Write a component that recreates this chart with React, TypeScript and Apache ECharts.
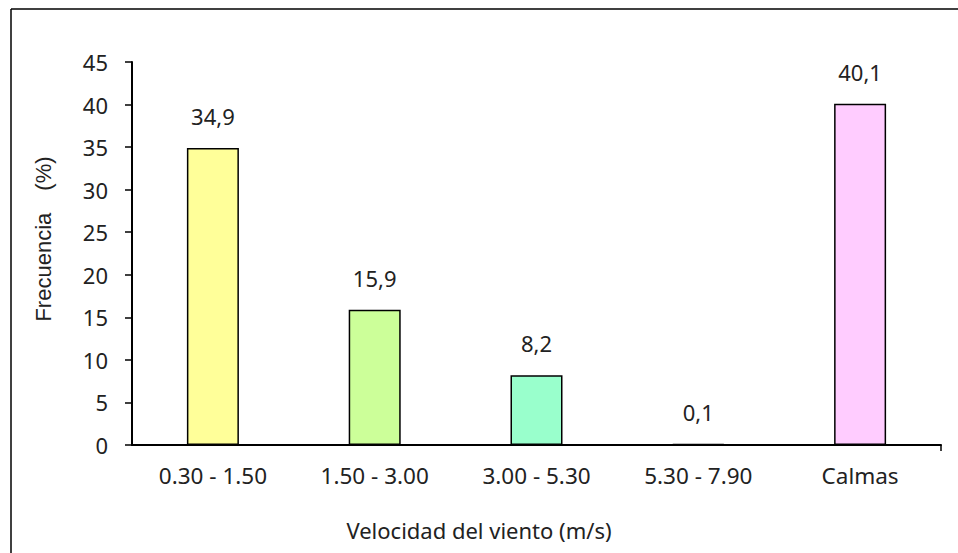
import React, { useEffect, useRef } from "react";
import * as echarts from "echarts";

const categories = ["0.30 - 1.50", "1.50 - 3.00", "3.00 - 5.30", "5.30 - 7.90", "Calmas"];
const frequencies = [34.9, 15.9, 8.2, 0.1, 40.1];
const barColors = ["#FFFF99", "#CCFF99", "#99FFCC", "#99CCFF", "#FFCCFF"];
const yTicks = { min: 0, max: 45, interval: 5 };

const FONT = "'Noto Sans', 'Open Sans', sans-serif";
const TITLE_FONT = "'Liberation Sans', Arial, sans-serif";
const TEXT = "#222222";

const W = 958;
const H = 553;
const GRID = { left: 132, right: 17, top: 62, bottom: 108 };

export default function App() {
  const ref = useRef<HTMLDivElement>(null);

  useEffect(() => {
    if (!ref.current) return;
    const chart = echarts.init(ref.current, null, { renderer: "svg", width: W, height: H });
    const axisRight = W - GRID.right;
    const axisBottom = H - GRID.bottom;

    chart.setOption({
      animation: false,
      backgroundColor: "#ffffff",
      grid: { ...GRID, containLabel: false },
      xAxis: {
        type: "category",
        data: categories,
        axisLine: { lineStyle: { color: "#000", width: 2 } },
        axisTick: { alignWithLabel: true, length: 6, lineStyle: { color: "#000", width: 1.5 } },
        axisLabel: { color: TEXT, fontFamily: FONT, fontSize: 22.5, margin: 19 },
      },
      yAxis: {
        type: "value",
        min: yTicks.min,
        max: yTicks.max,
        interval: yTicks.interval,
        axisLine: { show: true, lineStyle: { color: "#000", width: 2 } },
        axisTick: { show: true, length: 7, lineStyle: { color: "#000", width: 1.5 } },
        splitLine: { show: false },
        axisLabel: { color: TEXT, fontFamily: FONT, fontSize: 22, margin: 24 },
      },
      series: [
        {
          type: "bar",
          barWidth: 52,
          data: frequencies.map((v, i) => ({
            value: v,
            itemStyle: { color: barColors[i] },
          })),
          itemStyle: { borderColor: "#000", borderWidth: 1.5 },
          label: {
            show: true,
            position: "top",
            distance: 21,
            color: TEXT,
            fontFamily: FONT,
            fontSize: 22,
            formatter: (p: any) => String(p.value).replace(".", ","),
          },
        },
      ],
      graphic: [
        // outer frame (top and left edges)
        { type: "line", shape: { x1: 11, y1: 9, x2: W, y2: 9 }, style: { stroke: "#000", lineWidth: 1.5 } },
        { type: "line", shape: { x1: 11, y1: 9, x2: 11, y2: H }, style: { stroke: "#000", lineWidth: 1.5 } },
        // closing tick at the end of the category axis
        {
          type: "line",
          shape: { x1: axisRight, y1: axisBottom, x2: axisRight, y2: axisBottom + 6 },
          style: { stroke: "#000", lineWidth: 1.5 },
        },
        // y-axis title
        {
          type: "text",
          x: 43,
          y: 239,
          rotation: Math.PI / 2,
          style: {
            text: "{a|Frecuencia} {b|(%)}",
            fill: TEXT,
            font: `22px ${TITLE_FONT}`,
            textAlign: "center",
            textVerticalAlign: "middle",
            rich: {
              a: { fill: TEXT, fontFamily: TITLE_FONT, fontSize: 22 },
              b: { fill: TEXT, fontFamily: TITLE_FONT, fontSize: 22, padding: [0, 0, 0, 16] },
            },
          },
        },
        // x-axis title
        {
          type: "text",
          x: 479,
          y: 530,
          style: {
            text: "Velocidad del viento (m/s)",
            fill: TEXT,
            font: `22px ${FONT}`,
            textAlign: "center",
            textVerticalAlign: "middle",
          },
        },
      ],
    });
    return () => chart.dispose();
  }, []);

  return (
    <div
      ref={ref}
      style={{ position: "absolute", left: 0, top: 0, width: W, height: H, background: "#fff" }}
    />
  );
}
